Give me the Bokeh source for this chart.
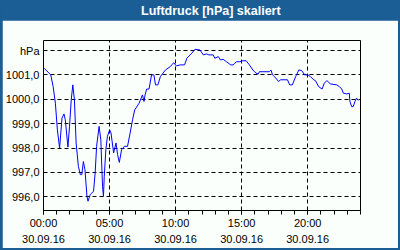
from bokeh.plotting import figure
from bokeh.layouts import column
from bokeh.models import FixedTicker, Label
from bokeh.embed import file_html
from bokeh.resources import INLINE

title_text = "Luftdruck [hPa] skaliert"
unit_label = "hPa"
date_label = "30.09.16"
x_tick_hours = [0, 5, 10, 15, 20]
x_tick_texts = ["00:00", "05:00", "10:00", "15:00", "20:00"]
y_ticks = [996, 997, 998, 999, 1000, 1001, 1002]

hours = [0.05, 0.55, 0.73, 0.90, 1.05, 1.22, 1.40, 1.55, 1.65, 1.85, 1.97, 2.10, 2.22, 2.34,
         2.47, 2.64, 2.79, 2.90, 3.02, 3.14, 3.29, 3.37, 3.54, 3.79, 3.91, 4.02, 4.21, 4.34,
         4.47, 4.54, 4.60, 4.72, 4.84, 5.01, 5.11, 5.31, 5.49, 5.61, 5.74, 5.91, 6.12, 6.36,
         6.56, 6.74, 6.91, 7.24, 7.49, 7.61, 7.69, 7.81, 7.99, 8.18, 8.36, 8.48, 8.66, 8.85,
         9.23, 9.60, 9.86, 10.05, 10.35, 10.68, 10.85, 11.23, 11.47, 11.85, 12.10, 12.35,
         12.52, 12.85, 12.97, 13.23, 13.40, 13.60, 13.85, 14.17, 14.37, 14.60, 14.84, 15.10,
         15.34, 15.59, 15.85, 16.09, 16.27, 16.34, 17.09, 17.22, 17.34, 17.59, 17.79, 17.96,
         18.47, 18.64, 18.84, 19.09, 19.33, 19.54, 19.78, 20.01, 20.21, 20.46, 20.58, 20.83,
         21.09, 21.26, 21.46, 21.71, 22.21, 22.40, 22.58, 22.70, 22.96, 23.15, 23.20, 23.33,
         23.45, 23.58, 23.70, 23.83]
pressure = [1001.27, 1001.00, 1000.52, 999.84, 998.75, 998.00, 999.23, 999.40, 999.16, 998.04,
            998.89, 999.98, 1000.59, 999.98, 998.21, 997.25, 996.91, 996.91, 997.45, 997.11,
            996.02, 995.82, 996.09, 996.23, 996.98, 998.07, 998.89, 998.34, 996.43, 996.02,
            996.84, 997.93, 998.48, 998.75, 998.62, 997.80, 998.21, 997.73, 997.41, 997.93,
            998.07, 998.07, 998.62, 999.16, 999.57, 999.84, 1000.18, 999.91, 1000.18, 1000.42,
            1000.42, 1001.00, 1001.00, 1000.59, 1000.59, 1000.93, 1001.20, 1001.34, 1001.50,
            1001.37, 1001.41, 1001.41, 1001.68, 1001.89, 1002.05, 1002.02, 1001.82, 1001.86,
            1001.82, 1001.82, 1001.68, 1001.75, 1001.61, 1001.64, 1001.54, 1001.41, 1001.41,
            1001.54, 1001.54, 1001.58, 1001.58, 1001.41, 1001.20, 1001.07, 1001.04, 1001.13,
            1001.13, 1001.20, 1001.00, 1000.87, 1000.73, 1000.80, 1000.80, 1000.59, 1000.59,
            1000.93, 1001.20, 1001.18, 1001.00, 1001.00, 1000.93, 1000.80, 1000.77, 1000.52,
            1000.42, 1000.66, 1000.77, 1000.63, 1000.59, 1000.52, 1000.42, 1000.25, 1000.22,
            1000.25, 999.91, 999.70, 999.70, 999.91, 1000.05, 999.95]

BLUE = "#1b5e96"
BG = "#fbfffb"
FONT = "Liberation Sans"

# title bar
t = figure(width=400, height=20, x_range=(0, 400), y_range=(0, 20),
           output_backend="svg", toolbar_location=None,
           min_border=0, x_axis_type=None, y_axis_type=None)
t.background_fill_color = BLUE
t.border_fill_color = BLUE
t.outline_line_color = None
t.xgrid.visible = False
t.ygrid.visible = False
t.add_layout(Label(x=211, y=10, text=title_text, text_align="center", text_baseline="middle",
                   text_color="white", text_font=FONT, text_font_size="12.5px",
                   text_font_style="bold"))

# main chart
p = figure(width=396, height=228, x_range=(0, 24), y_range=(995.44, 1002.41),
           output_backend="svg", toolbar_location=None,
           min_border_left=38, min_border_right=38, min_border_top=20, min_border_bottom=37,
           margin=(0, 2, 2, 2))
p.background_fill_color = BG
p.border_fill_color = BG
p.outline_line_color = "black"
p.outline_line_width = 1

p.line(hours, pressure, line_color="#0000ff", line_width=1)

p.xaxis.ticker = FixedTicker(ticks=x_tick_hours, minor_ticks=list(range(0, 25)))
p.xaxis.major_label_overrides = {h: f"{s}\n{date_label}" for h, s in zip(x_tick_hours, x_tick_texts)}
p.xaxis.major_tick_out = 4
p.xaxis.major_tick_in = 0
p.xaxis.minor_tick_out = 4
p.xaxis.minor_tick_in = 0
p.xaxis.axis_line_color = "black"
p.xaxis.major_label_text_font = FONT
p.xaxis.major_label_text_font_size = "11px"
p.xaxis.major_label_text_color = "black"
p.xaxis.major_label_text_line_height = 1.4
p.xaxis.major_label_standoff = 2

p.yaxis.ticker = FixedTicker(ticks=y_ticks)
p.yaxis.major_label_overrides = {v: (unit_label if v == 1002 else f"{v},0") for v in y_ticks}
p.yaxis.major_tick_out = 0
p.yaxis.major_tick_in = 0
p.yaxis.minor_tick_line_color = None
p.yaxis.axis_line_color = None
p.yaxis.major_label_text_font = FONT
p.yaxis.major_label_text_font_size = "11px"
p.yaxis.major_label_text_color = "black"
p.yaxis.major_label_standoff = 4

for g in (p.xgrid, p.ygrid):
    g.grid_line_color = "black"
    g.grid_line_dash = "4 3"
    g.grid_line_width = 1
    g.grid_line_alpha = 1.0
p.xgrid.ticker = FixedTicker(ticks=x_tick_hours)
p.ygrid.ticker = FixedTicker(ticks=y_ticks)

layout = column(t, p, spacing=0, styles={"background-color": BLUE})

open("out.html", "w").write(file_html(layout, INLINE))
